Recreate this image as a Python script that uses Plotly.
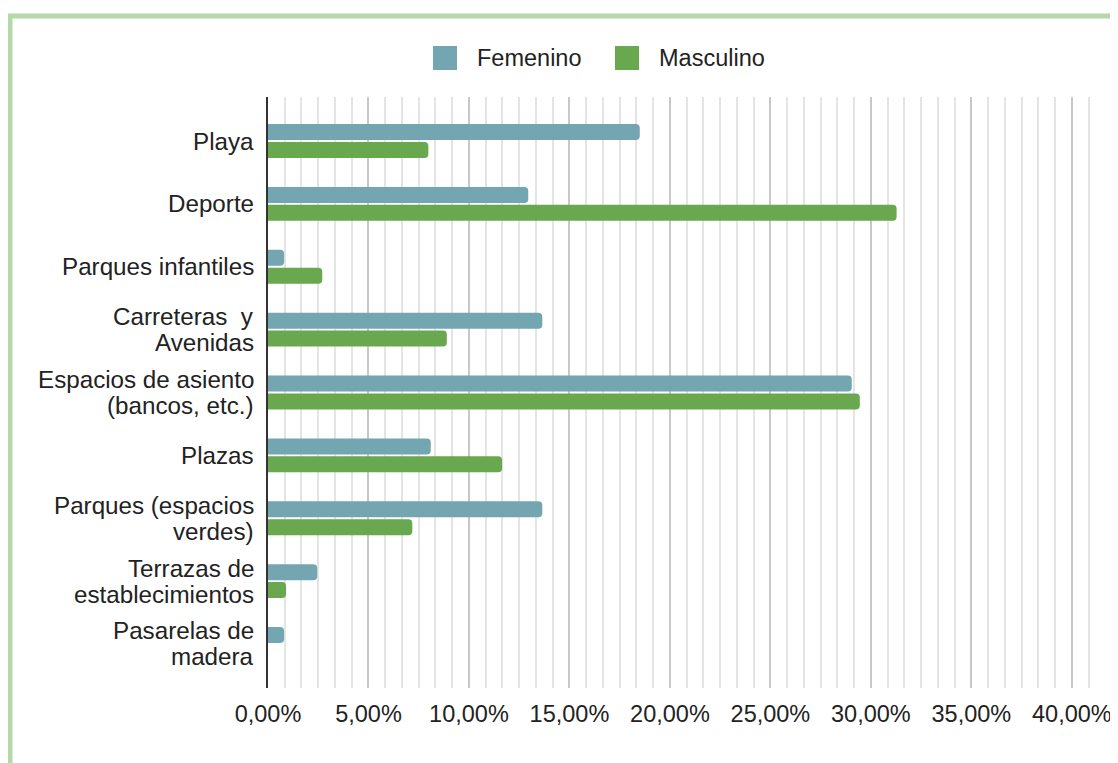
import plotly.graph_objects as go

categories = [
    "Playa",
    "Deporte",
    "Parques infantiles",
    "Carreteras  y<br>Avenidas",
    "Espacios de asiento<br>(bancos, etc.)",
    "Plazas",
    "Parques (espacios<br>verdes)",
    "Terrazas de<br>establecimientos",
    "Pasarelas de<br>madera",
]
series_names = ["Femenino", "Masculino"]
femenino = [18.5, 12.95, 0.8, 13.65, 29.05, 8.1, 13.65, 2.45, 0.8]
masculino = [7.98, 31.28, 2.7, 8.9, 29.45, 11.65, 7.18, 0.9, 0.0]
colors = ["#73a6b0", "#6aa84f"]
tick_vals = [0, 5, 10, 15, 20, 25, 30, 35, 40]
tick_text = ["0,00%", "5,00%", "10,00%", "15,00%", "20,00%", "25,00%", "30,00%", "35,00%", "40,00%"]

FONT = "Liberation Sans, Arial, sans-serif"
FS = 23.5
FS_CAT = 24.2
TXT = "#222222"

OFF = 8  # page body margin
W, H = 1118 - OFF, 763 - OFF
L, T = 268 - OFF, 97 - OFF
R = W - (1104 - OFF)
B = H - (688 - OFF)
pw, ph = W - L - R, H - T - B


def px_x(p):  # page x -> paper
    return (p - OFF - L) / pw


def px_y(p):  # page y -> paper
    return (H - B - (p - OFF)) / ph


fig = go.Figure()
for name, vals, col in zip(series_names, [femenino, masculino], colors):
    fig.add_trace(go.Bar(y=categories, x=vals, orientation="h", name=name,
                         marker=dict(color=col, line=dict(width=0)), showlegend=False))

annotations = []
for cat in categories:
    lines = cat.split("<br>")
    n = len(lines)
    for i, ln in enumerate(lines):
        shift = (n - 1) / 2 * 26 - i * 26
        annotations.append(dict(text=ln, xref="paper", x=0, xanchor="right", xshift=-12,
                                yref="y", y=cat, yanchor="middle", yshift=shift,
                                showarrow=False, font=dict(family=FONT, size=FS_CAT, color=TXT)))

# legend (custom, to match the large square keys)
leg_sq_x = [433, 615]
leg_txt_x = [475, 657]
shapes = []
for name, col, sx, tx in zip(series_names, colors, leg_sq_x, leg_txt_x):
    shapes.append(dict(type="rect", xref="paper", yref="paper",
                       x0=px_x(sx), x1=px_x(sx + 24), y0=px_y(70), y1=px_y(46),
                       fillcolor=col, line=dict(width=0)))
    annotations.append(dict(text=name, xref="paper", x=px_x(tx), xanchor="left",
                            yref="paper", y=px_y(58), yanchor="middle", showarrow=False,
                            font=dict(family=FONT, size=FS, color=TXT)))

# light green frame
shapes += [
    dict(type="line", xref="paper", yref="paper",
         x0=px_x(8), x1=px_x(1140), y0=px_y(16), y1=px_y(16),
         line=dict(color="#b6d7a8", width=5)),
    dict(type="line", xref="paper", yref="paper",
         x0=px_x(10), x1=px_x(10), y0=px_y(14), y1=px_y(790),
         line=dict(color="#b6d7a8", width=5)),
]

fig.update_layout(
    width=W, height=H,
    margin=dict(l=L, r=R, t=T, b=B, autoexpand=False),
    paper_bgcolor="white", plot_bgcolor="white",
    barmode="group", bargap=0.43, bargroupgap=0.11, barcornerradius=4,
    font=dict(family=FONT, size=FS, color=TXT),
    showlegend=False,
    xaxis=dict(range=[0, 41.6], tickvals=tick_vals, ticktext=tick_text,
               showgrid=True, gridcolor="#c8c8c8", gridwidth=1.5,
               minor=dict(dtick=5 / 6, tick0=0, showgrid=True, gridcolor="#e4e4e4", gridwidth=1.5),
               zeroline=False, showline=False, ticks="", ticklabelstandoff=9,
               tickfont=dict(family=FONT, size=FS, color=TXT), fixedrange=True),
    yaxis=dict(range=[8.7, -0.7], showgrid=False, zeroline=False,
               showline=True, linecolor="#333333", linewidth=2,
               ticks="", showticklabels=False, fixedrange=True),
    shapes=shapes,
    annotations=annotations,
)

fig.write_html("out.html")
